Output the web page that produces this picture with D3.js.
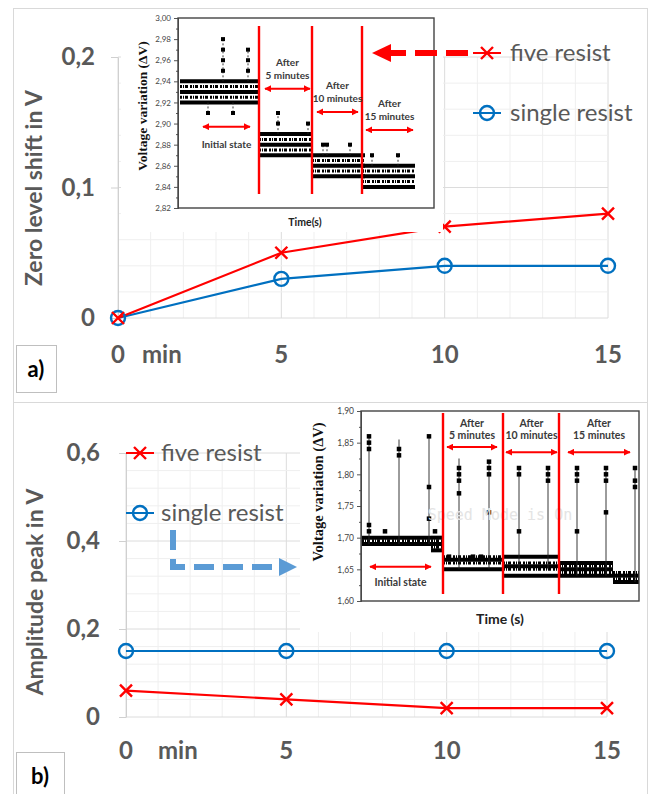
<!DOCTYPE html>
<html>
<head>
<meta charset="utf-8">
<script src="https://cdn.jsdelivr.net/npm/d3@7"></script>
<style>
body { margin: 0; background: #fff; }
svg text { font-family: Lato, "Open Sans", sans-serif; }
</style>
</head>
<body>
<svg id="fig" width="653" height="794"></svg>
<script>
// ---- main chart data ----
var minutes = [0, 5, 10, 15];
var seriesNames = ["five resist", "single resist"];
var shiftFive = [0, 0.05, 0.07, 0.08];      // a) zero level shift (V)
var shiftSingle = [0, 0.03, 0.04, 0.04];
var peakFive = [0.06, 0.04, 0.02, 0.02];    // b) amplitude peak (V)
var peakSingle = [0.15, 0.15, 0.15, 0.15];
var shiftTicks = [0, 0.1, 0.2];
var peakTicks = [0, 0.2, 0.4, 0.6];

// ---- inset a) : zero level noise (time in arbitrary units) ----
var stageNames = [["Initial state"], ["After", "5 minutes"], ["After", "10 minutes"], ["After", "15 minutes"]];
var insetATicks = [2.82, 2.84, 2.86, 2.88, 2.90, 2.92, 2.94, 2.96, 2.98, 3.00];
var insetAEdges = [40.5, 67, 92];
var insetABands = [
  {t0: 1, t1: 40.5, levels: [2.92, 2.925, 2.93, 2.935, 2.94]},
  {t0: 40.5, t1: 67, levels: [2.87, 2.875, 2.88, 2.885, 2.89]},
  {t0: 67, t1: 93.5, levels: [2.85, 2.855, 2.86, 2.865, 2.87]},
  {t0: 92, t1: 118.5, levels: [2.84, 2.845, 2.85, 2.855, 2.86]}
];
var insetASpikes = [
  {t: 22.5, from: 2.94, marks: [2.95, 2.96, 2.97, 2.98]},
  {t: 35, from: 2.94, marks: [2.95, 2.96, 2.97]},
  {t: 15, from: 2.92, marks: [2.91]},
  {t: 27.5, from: 2.92, marks: [2.91]},
  {t: 50, from: 2.89, marks: [2.90, 2.91]},
  {t: 65, from: 2.89, marks: [2.90]},
  {t: 72.5, from: 2.87, marks: [2.88]},
  {t: 74.5, from: 2.87, marks: [2.88]},
  {t: 86, from: 2.87, marks: [2.88]},
  {t: 97, from: 2.86, marks: [2.87]},
  {t: 110, from: 2.86, marks: [2.87]}
];
var insetASpans = [[12.5, 36, 2.897], [43.5, 66, 2.933], [69.5, 90, 2.911], [94, 117.5, 2.894]];

// ---- inset b) : voltage peaks ----
var insetBTicks = [1.60, 1.65, 1.70, 1.75, 1.80, 1.85, 1.90];
var insetBEdges = [41, 71, 99];
var insetBBands = [
  {t0: 0.5, t1: 35, levels: [1.69, 1.695, 1.70]},
  {t0: 35, t1: 41, levels: [1.68, 1.685, 1.69, 1.695, 1.70]},
  {t0: 41, t1: 71, levels: [1.65, 1.66, 1.665, 1.67]},
  {t0: 71, t1: 99, levels: [1.64, 1.65, 1.655, 1.66, 1.67]},
  {t0: 99, t1: 126, levels: [1.64, 1.645, 1.65, 1.655, 1.66]},
  {t0: 126, t1: 139, levels: [1.63, 1.635, 1.64, 1.645]}
];
var insetBSpikes = [
  {t: 4, from: 1.69, top: 1.86, marks: [1.86, 1.85, 1.84, 1.72, 1.71]},
  {t: 19, from: 1.69, top: 1.855, marks: [1.84, 1.83]},
  {t: 34, from: 1.69, top: 1.86, marks: [1.86, 1.78, 1.73]},
  {t: 49, from: 1.65, top: 1.825, marks: [1.81, 1.80, 1.79, 1.77]},
  {t: 64, from: 1.65, top: 1.82, marks: [1.82, 1.81, 1.80, 1.74]},
  {t: 79, from: 1.65, top: 1.81, marks: [1.81, 1.80, 1.71]},
  {t: 93.5, from: 1.65, top: 1.81, marks: [1.81, 1.80, 1.79]},
  {t: 108, from: 1.64, top: 1.81, marks: [1.81, 1.80, 1.79, 1.71]},
  {t: 122.5, from: 1.64, top: 1.81, marks: [1.81, 1.80, 1.79, 1.74]},
  {t: 137, from: 1.63, top: 1.81, marks: [1.81, 1.79, 1.78]}
];
var insetBDots = [[12, 1.71], [37, 1.71], [44, 1.67], [56, 1.67], [60, 1.67]];
var insetBSpans = [[4.5, 35, 1.654], [43, 68, 1.843], [72.5, 98, 1.835], [103.5, 134.5, 1.835]];

var svg = d3.select("#fig");
var grey = "#595959";
var red = "#ff0000", blue = "#0070c0";
var comma = function(d) { return d === 0 ? "0" : String(d).replace(".", ","); };

var defs = svg.append("defs");
defs.append("marker").attr("id", "head").attr("viewBox", "0 0 10 10")
  .attr("refX", 9).attr("refY", 5).attr("markerWidth", 3.6).attr("markerHeight", 3.6)
  .attr("orient", "auto-start-reverse")
  .append("path").attr("d", "M0,0L10,5L0,10z").attr("fill", red);

// panel frames
svg.append("rect").attr("x", 13.5).attr("y", 8.5).attr("width", 634).attr("height", 394)
  .attr("fill", "none").attr("stroke", "#d9d9d9");
svg.append("rect").attr("x", 13.5).attr("y", 402.5).attr("width", 634).attr("height", 400)
  .attr("fill", "none").attr("stroke", "#d9d9d9");

function crossPath(cx, cy, r) {
  return "M" + (cx - r) + "," + (cy - r) + "L" + (cx + r) + "," + (cy + r) +
    "M" + (cx - r) + "," + (cy + r) + "L" + (cx + r) + "," + (cy - r);
}

function mainChart(o) {
  var x = d3.scaleLinear().domain([0, 15]).range([o.left, o.right]);
  var y = d3.scaleLinear().domain([0, o.yMax]).range([o.bottom, o.top]);
  var g = svg.append("g");

  g.append("g").selectAll("line").data(d3.range(0, 16)).join("line")
    .attr("x1", x).attr("x2", x).attr("y1", y(0)).attr("y2", y(o.yMax))
    .attr("stroke", function(d) { return d % 5 ? "#efefef" : "#dcdcdc"; });
  var hs = d3.range(0, o.yMax + 1e-9, o.minor);
  g.append("g").selectAll("line").data(hs).join("line")
    .attr("x1", x(0)).attr("x2", x(15)).attr("y1", y).attr("y2", y)
    .attr("stroke", function(d, i) { return i % o.majorEvery ? "#efefef" : "#dcdcdc"; });

  var ax = g.append("g").attr("transform", "translate(" + o.left + ",0)")
    .call(d3.axisLeft(y).tickValues(o.ticks).tickSize(7).tickSizeOuter(0)
      .tickPadding(o.pad).tickFormat(comma));
  ax.select(".domain").attr("stroke", "#d0d0d0");
  ax.selectAll(".tick line").attr("stroke", "#d0d0d0");
  ax.selectAll("text").attr("fill", grey).style("font-family", "Lato").style("font-size", "24px").style("font-weight", "bold");

  g.append("g").selectAll("text").data(minutes).join("text")
    .attr("x", x).attr("y", o.labelY).attr("dy", "0.35em").attr("text-anchor", "middle")
    .attr("fill", grey).style("font-size", "24px").style("font-weight", "bold")
    .text(function(d) { return d; });
  g.append("text").attr("x", x(0) + o.minGap).attr("y", o.labelY).attr("dy", "0.35em")
    .attr("fill", grey).style("font-size", "24px").style("font-weight", "bold").text("min");

  g.append("text").attr("transform", "translate(" + o.titleX + "," + o.titleY + ") rotate(-90)")
    .attr("text-anchor", "middle").attr("fill", grey)
    .style("font-size", "23px").style("font-weight", "bold").text(o.title);

  var line = d3.line().x(function(d, i) { return x(minutes[i]); }).y(function(d) { return y(d); });
  g.append("path").datum(o.single).attr("d", line).attr("fill", "none").attr("stroke", blue).attr("stroke-width", 2.2);
  g.append("path").datum(o.five).attr("d", line).attr("fill", "none").attr("stroke", red).attr("stroke-width", 2.2);
  g.append("g").selectAll("circle").data(o.single).join("circle")
    .attr("cx", function(d, i) { return x(minutes[i]); }).attr("cy", y).attr("r", 7)
    .attr("fill", "none").attr("stroke", blue).attr("stroke-width", 2.4);
  g.append("g").selectAll("path").data(o.five).join("path")
    .attr("d", function(d, i) { return crossPath(x(minutes[i]), y(d), 6); })
    .attr("stroke", red).attr("stroke-width", 2.4);
  return g;
}

function legend(mx, tx, ys) {
  var g = svg.append("g");
  seriesNames.forEach(function(name, i) {
    var yy = ys[i];
    g.append("line").attr("x1", mx - 14).attr("x2", mx + 14).attr("y1", yy).attr("y2", yy)
      .attr("stroke", i ? blue : red).attr("stroke-width", 2);
    if (i) g.append("circle").attr("cx", mx).attr("cy", yy).attr("r", 7).attr("fill", "none")
      .attr("stroke", blue).attr("stroke-width", 2.4);
    else g.append("path").attr("d", crossPath(mx, yy, 6)).attr("stroke", red).attr("stroke-width", 2.4);
    g.append("text").attr("x", tx).attr("y", yy).attr("dy", "0.35em").attr("fill", grey)
      .style("font-size", "24px").text(name);
  });
}

function inset(o) {
  var g = svg.append("g");
  g.append("rect").attr("x", o.box[0]).attr("y", o.box[1]).attr("width", o.box[2] - o.box[0])
    .attr("height", o.box[3] - o.box[1]).attr("fill", "#fff");
  var x = d3.scaleLinear().domain([0, o.tMax]).range([o.left, o.right]);
  var y = d3.scaleLinear().domain([o.ticks[0], o.ticks[o.ticks.length - 1]]).range([o.bottom, o.top]);

  var ax = g.append("g").attr("transform", "translate(" + o.left + ",0)")
    .call(d3.axisLeft(y).tickValues(o.ticks).tickSize(4).tickSizeOuter(0).tickPadding(3)
      .tickFormat(function(d) { return d3.format(".2f")(d).replace(".", ","); }));
  ax.selectAll("text").attr("fill", "#444").style("font-size", o.tickFont + "px");
  ax.selectAll("line, path").attr("stroke", "#555");
  var mid = o.ticks.slice(1).map(function(d, i) { return (d + o.ticks[i]) / 2; });
  g.append("g").attr("transform", "translate(" + o.left + ",0)")
    .call(d3.axisLeft(y).tickValues(mid).tickSize(2).tickFormat(""))
    .selectAll("line, path").attr("stroke", "#555");

  // noise bands
  var rows = [];
  o.bands.forEach(function(b) {
    b.levels.forEach(function(v, i) { rows.push({t0: b.t0, t1: b.t1, v: v, solid: i % 2 === 0}); });
  });
  g.append("g").selectAll("line").data(rows).join("line")
    .attr("x1", function(d) { return x(d.t0); }).attr("x2", function(d) { return x(d.t1); })
    .attr("y1", function(d) { return y(d.v); }).attr("y2", function(d) { return y(d.v); })
    .attr("stroke", "#000").attr("stroke-width", function(d) { return d.solid ? 4 : 3; })
    .attr("stroke-dasharray", function(d) { return d.solid ? null : "2,1,1,1,3,2"; });

  // spikes
  var sp = g.append("g").selectAll("g").data(o.spikes).join("g");
  sp.append("line")
    .attr("x1", function(d) { return x(d.t); }).attr("x2", function(d) { return x(d.t); })
    .attr("y1", function(d) { return y(d.from); })
    .attr("y2", function(d) { return y(d.top !== undefined ? d.top : d3.extent(d.marks.concat([d.from]), function(v) { return Math.abs(v - d.from); })[1] * (d.marks[0] > d.from ? 1 : -1) + d.from); })
    .attr("stroke", "#222").attr("stroke-width", 0.9)
    .attr("stroke-dasharray", o.dashSpike ? "2,2" : null);
  sp.selectAll("rect").data(function(d) { return d.marks.map(function(v) { return [d.t, v]; }); }).join("rect")
    .attr("x", function(d) { return x(d[0]) - o.sq / 2; }).attr("y", function(d) { return y(d[1]) - o.sq / 2; })
    .attr("width", o.sq).attr("height", o.sq).attr("fill", "#000");
  g.append("g").selectAll("rect").data(o.dots || []).join("rect")
    .attr("x", function(d) { return x(d[0]) - o.sq / 2; }).attr("y", function(d) { return y(d[1]) - o.sq / 2; })
    .attr("width", o.sq).attr("height", o.sq).attr("fill", "#000");

  // frame
  g.append("rect").attr("x", o.left).attr("y", o.top).attr("width", o.right - o.left)
    .attr("height", o.bottom - o.top).attr("fill", "none").attr("stroke", "#444").attr("stroke-width", 1.4);

  if (o.watermark) {
    g.append("text").attr("x", o.watermark[0]).attr("y", o.watermark[1]).attr("text-anchor", "middle")
      .attr("dy", "0.35em").attr("fill", "#e4e4e4").style("font-family", "'DejaVu Sans Mono', monospace")
      .style("font-size", "15px").text("Speed Mode is On");
  }

  // stage boundaries
  g.append("g").selectAll("line").data(o.edges).join("line")
    .attr("x1", x).attr("x2", x).attr("y1", o.redTop).attr("y2", o.redBottom)
    .attr("stroke", red).attr("stroke-width", 2.4);

  // stage arrows and names
  g.append("g").selectAll("line").data(o.spans).join("line")
    .attr("x1", function(d) { return x(d[0]); }).attr("x2", function(d) { return x(d[1]); })
    .attr("y1", function(d) { return y(d[2]); }).attr("y2", function(d) { return y(d[2]); })
    .attr("stroke", red).attr("stroke-width", 2)
    .attr("marker-start", "url(#head)").attr("marker-end", "url(#head)");
  o.spans.forEach(function(s, i) {
    var cx = x((s[0] + s[1]) / 2), cy = y(s[2]);
    var lines = stageNames[i];
    lines.forEach(function(t, j) {
      var yy = i === 0 ? cy + o.initOff : o.textY[j] !== undefined ? o.textY[j](cy) : 0;
      g.append("text").attr("x", cx).attr("y", yy).attr("dy", "0.35em").attr("text-anchor", "middle")
        .attr("fill", "#3a3a3a").style("font-size", o.stageFont + "px").style("font-weight", "bold").text(t);
    });
  });

  g.append("text").attr("transform", "translate(" + o.yTitle[0] + "," + o.yTitle[1] + ") rotate(-90)")
    .attr("text-anchor", "middle").attr("dy", "0.35em").attr("fill", "#111")
    .style("font-family", "'Liberation Serif', serif").style("font-weight", "bold")
    .style("font-size", o.yTitleFont + "px").text("Voltage variation (\u0394V)");
  g.append("text").attr("x", o.xTitle[0]).attr("y", o.xTitle[1]).attr("dy", "0.35em")
    .attr("text-anchor", "middle").attr("fill", "#222").style("font-weight", "bold")
    .style("font-size", o.xTitleFont + "px").text(o.xTitleText);
}

// ---------- panel a ----------
mainChart({left: 118, right: 608, top: 57, bottom: 318, yMax: 0.2, minor: 0.02, majorEvery: 5,
  ticks: shiftTicks, pad: 16, labelY: 355, minGap: 24, title: "Zero level shift in V",
  titleX: 42, titleY: 188, five: shiftFive, single: shiftSingle});

inset({box: [121, 9, 443, 232], left: 178, right: 434, top: 18, bottom: 208, tMax: 128,
  ticks: insetATicks, tickFont: 8, bands: insetABands, spikes: insetASpikes, sq: 4, dashSpike: true,
  edges: insetAEdges, redTop: 26, redBottom: 194, spans: insetASpans, initOff: 18,
  textY: [function(c) { return c - 26; }, function(c) { return c - 13; }], stageFont: 10,
  yTitle: [142, 106], yTitleFont: 13.5, xTitle: [305, 222], xTitleFont: 10.5, xTitleText: "Time(s)"});

legend(487, 510, [53, 113]);

// red dashed pointer
svg.append("line").attr("x1", 468).attr("x2", 388).attr("y1", 53).attr("y2", 53)
  .attr("stroke", red).attr("stroke-width", 6).attr("stroke-dasharray", "22,9");
svg.append("path").attr("d", "M372,53L391,44L391,62Z").attr("fill", red);

// ---------- panel b ----------
mainChart({left: 126, right: 607, top: 453, bottom: 717, yMax: 0.6, minor: 0.04, majorEvery: 5,
  ticks: peakTicks, pad: 19, labelY: 751, minGap: 32, title: "Amplitude peak in V",
  titleX: 43, titleY: 592, five: peakFive, single: peakSingle});

inset({box: [300, 404, 645, 632], left: 361, right: 639, top: 411, bottom: 601, tMax: 139,
  ticks: insetBTicks, tickFont: 8.5, bands: insetBBands, spikes: insetBSpikes, dots: insetBDots, sq: 4.5,
  dashSpike: false, edges: insetBEdges, redTop: 413, redBottom: 594, spans: insetBSpans, initOff: 16,
  textY: [function() { return 423; }, function() { return 435; }], stageFont: 10.5,
  watermark: [500, 515],
  yTitle: [318, 492], yTitleFont: 14.5, xTitle: [500, 619], xTitleFont: 14, xTitleText: "Time (s)"});

legend(140, 161, [453, 513]);

// blue dashed elbow pointer
svg.append("path").attr("d", "M173,530V567H280").attr("fill", "none")
  .attr("stroke", "#5b9bd5").attr("stroke-width", 6).attr("stroke-dasharray", "20,9");
svg.append("path").attr("d", "M297,567L279,558L279,576Z").attr("fill", "#5b9bd5");

// panel labels
[["a)", 16, 345, 40, 47], ["b)", 16, 752, 48, 50]].forEach(function(p) {
  svg.append("rect").attr("x", p[1] + 0.5).attr("y", p[2] + 0.5).attr("width", p[3]).attr("height", p[4])
    .attr("fill", "#fff").attr("stroke", "#bfbfbf");
  svg.append("text").attr("x", p[1] + p[3] / 2).attr("y", p[2] + 24).attr("dy", "0.35em")
    .attr("text-anchor", "middle").style("font-size", "22px").style("font-weight", "bold")
    .attr("fill", "#000").text(p[0]);
});
</script>
</body>
</html>
